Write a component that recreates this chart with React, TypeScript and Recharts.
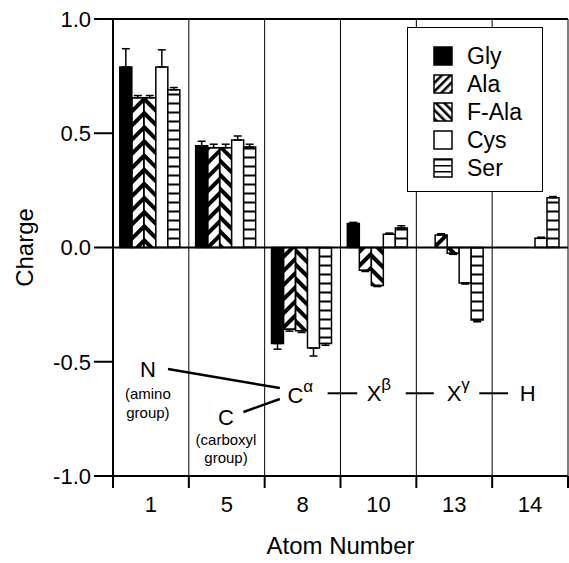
import React from 'react';
import {
  BarChart,
  Bar,
  XAxis,
  YAxis,
  CartesianGrid,
  ReferenceLine,
  ReferenceDot,
  ErrorBar,
  Legend,
} from 'recharts';

// atom numbers along the x axis
const atoms = ['1', '5', '8', '10', '13', '14'];
const seriesNames = ['Gly', 'Ala', 'F-Ala', 'Cys', 'Ser'];

// charges per residue type
const gly = [0.79, 0.445, -0.42, 0.105, 0, 0];
const ala = [0.655, 0.437, -0.358, -0.1, 0.055, 0];
const fAla = [0.655, 0.437, -0.364, -0.166, -0.025, 0];
const cys = [0.79, 0.47, -0.44, 0.058, -0.155, 0.04];
const ser = [0.69, 0.44, -0.42, 0.085, -0.317, 0.218];

// one-sided error (drawn away from zero)
const glyErr = [0.08, 0.02, 0.025, 0.005, 0, 0];
const alaErr = [0.01, 0.015, 0.008, 0.005, 0.005, 0];
const fAlaErr = [0.01, 0.015, 0.008, 0.005, 0.005, 0];
const cysErr = [0.075, 0.018, 0.035, 0.005, 0.005, 0.005];
const serErr = [0.01, 0.012, 0.008, 0.01, 0.008, 0.005];

const yTicks = [-1, -0.5, 0, 0.5, 1];

const values = [gly, ala, fAla, cys, ser];
const errors = [glyErr, alaErr, fAlaErr, cysErr, serErr];
const fills = ['#000', 'url(#hatchUp)', 'url(#hatchDown)', '#fff', 'url(#hLines)'];
const legendFills = ['#000', 'url(#hatchUpSm)', 'url(#hatchDownSm)', '#fff', 'url(#hLinesSm)'];

const data = atoms.map((atom, i) => {
  const row: Record<string, any> = { atom };
  seriesNames.forEach((name, s) => {
    const v = values[s][i];
    const e = errors[s][i];
    row[name] = v;
    row[name + 'Err'] = v >= 0 ? [0, e] : [e, 0];
  });
  return row;
});

// backbone annotation (x in category-slot units 0..6, y in charge units)
const labels = [
  { x: 0.46, y: -0.536, text: 'N', size: 22, anchor: 'middle' },
  { x: 0.46, y: -0.637, text: '(amino', size: 15, anchor: 'middle' },
  { x: 0.46, y: -0.72, text: 'group)', size: 15, anchor: 'middle' },
  { x: 1.49, y: -0.746, text: 'C', size: 22, anchor: 'middle' },
  { x: 1.49, y: -0.842, text: '(carboxyl', size: 15, anchor: 'middle' },
  { x: 1.49, y: -0.921, text: 'group)', size: 15, anchor: 'middle' },
  { x: 2.3, y: -0.646, text: 'C', sup: 'α', size: 22, anchor: 'start' },
  { x: 3.345, y: -0.637, text: 'X', sup: 'β', size: 22, anchor: 'start' },
  { x: 4.4, y: -0.637, text: 'X', sup: 'γ', size: 22, anchor: 'start' },
  { x: 5.47, y: -0.637, text: 'H', size: 22, anchor: 'middle' },
];

const bonds = [
  [{ x: 0.725, y: -0.532 }, { x: 2.2, y: -0.615 }],
  [{ x: 1.72, y: -0.72 }, { x: 2.2, y: -0.663 }],
  [{ x: 2.83, y: -0.638 }, { x: 3.22, y: -0.638 }],
  [{ x: 3.86, y: -0.638 }, { x: 4.23, y: -0.638 }],
  [{ x: 4.83, y: -0.638 }, { x: 5.21, y: -0.638 }],
];

const renderLegend = () => (
  <div
    style={{
      width: 136,
      height: 165,
      border: '1.5px solid #000',
      background: '#fff',
      boxSizing: 'border-box',
      paddingTop: 14,
      paddingLeft: 25,
    }}
  >
    {seriesNames.map((name, s) => (
      <div key={name} style={{ display: 'flex', alignItems: 'center', height: 28 }}>
        <svg width={20} height={20} style={{ marginRight: 14 }}>
          <rect x={1} y={1} width={18} height={18} fill={legendFills[s]} stroke="#000" strokeWidth={1.5} />
        </svg>
        <span style={{ fontSize: 23, color: '#000' }}>{name}</span>
      </div>
    ))}
  </div>
);

export default function App() {
  return (
    <div
      style={{
        position: 'absolute',
        left: 0,
        top: 0,
        background: '#fff',
        fontFamily: '"Liberation Sans", Arial, sans-serif',
      }}
    >
      <BarChart
        width={569}
        height={563}
        data={data}
        margin={{ top: 19, right: 1, left: 0, bottom: 0 }}
        barCategoryGap="9%"
        barGap={0}
      >
        <defs>
          <pattern id="hatchUp" patternUnits="userSpaceOnUse" width={10} height={10} patternTransform="rotate(45)">
            <rect x={0} y={0} width={4} height={10} fill="#000" />
          </pattern>
          <pattern id="hatchDown" patternUnits="userSpaceOnUse" width={10} height={10} patternTransform="rotate(-45)">
            <rect x={0} y={0} width={4} height={10} fill="#000" />
          </pattern>
          <pattern id="hLines" patternUnits="userSpaceOnUse" width={10} height={9}>
            <rect x={0} y={0} width={10} height={9} fill="#fff" />
            <rect x={0} y={3.5} width={10} height={2} fill="#000" />
          </pattern>
          <pattern id="hatchUpSm" patternUnits="userSpaceOnUse" width={6} height={6} patternTransform="rotate(45)">
            <rect x={0} y={0} width={2.5} height={6} fill="#000" />
          </pattern>
          <pattern id="hatchDownSm" patternUnits="userSpaceOnUse" width={6} height={6} patternTransform="rotate(-45)">
            <rect x={0} y={0} width={2.5} height={6} fill="#000" />
          </pattern>
          <pattern id="hLinesSm" patternUnits="userSpaceOnUse" width={6} height={6} y={1}>
            <rect x={0} y={0} width={6} height={6} fill="#fff" />
            <rect x={0} y={0} width={6} height={1.5} fill="#000" />
          </pattern>
        </defs>

        {/* slot axis: group boundaries, tick marks and frame (sits next to the plot) */}
        <CartesianGrid horizontal={false} stroke="#000" strokeWidth={1} />
        <XAxis
          type="number"
          dataKey={() => 0}
          domain={[0, 6]}
          ticks={[0, 1, 2, 3, 4, 5, 6]}
          allowDataOverflow
          height={13}
          tickSize={12}
          tickFormatter={() => ''}
          axisLine={{ stroke: '#000', strokeWidth: 2 }}
          tickLine={{ stroke: '#000', strokeWidth: 2 }}
        />
        {/* category axis: atom number labels */}
        <XAxis
          xAxisId="cat"
          dataKey="atom"
          height={74}
          interval={0}
          tickLine={false}
          axisLine={false}
          tickSize={0}
          tickMargin={7}
          tick={{ fontSize: 22, fill: '#000' }}
          label={{ value: 'Atom Number', position: 'insideBottom', offset: 9, fontSize: 24, fill: '#000' }}
        />
        <YAxis
          type="number"
          domain={[-1, 1]}
          ticks={yTicks}
          width={113}
          tickSize={19}
          tickMargin={3}
          tickFormatter={(v: number) => v.toFixed(1)}
          tick={{ fontSize: 22, fill: '#000' }}
          axisLine={{ stroke: '#000', strokeWidth: 2 }}
          tickLine={{ stroke: '#000', strokeWidth: 2 }}
          label={{
            value: 'Charge',
            angle: -90,
            position: 'insideLeft',
            offset: 24,
            fontSize: 24,
            fill: '#000',
            style: { textAnchor: 'middle' },
          }}
        />

        {seriesNames.map((name, s) => (
          <Bar
            key={name}
            xAxisId="cat"
            dataKey={name}
            fill={fills[s]}
            stroke="#000"
            strokeWidth={1.5}
            isAnimationActive={false}
          >
            <ErrorBar dataKey={name + 'Err'} width={4} stroke="#000" strokeWidth={1.5} direction="y" />
          </Bar>
        ))}

        <ReferenceLine y={0} stroke="#000" strokeWidth={2} />
        <ReferenceLine y={1} stroke="#000" strokeWidth={2} />

        {bonds.map((seg, i) => (
          <ReferenceLine key={'b' + i} segment={seg} stroke="#000" strokeWidth={i < 2 ? 2.5 : 2} />
        ))}

        {labels.map((l, i) => (
          <ReferenceDot
            key={'l' + i}
            x={l.x}
            y={l.y}
            r={0}
            shape={(p: any) => (
              <text
                x={p.cx}
                y={p.cy}
                textAnchor={l.anchor}
                dominantBaseline="central"
                fontSize={l.size}
                fill="#000"
              >
                {l.text}
                {l.sup ? (
                  <tspan fontSize={17} dy={-9}>
                    {l.sup}
                  </tspan>
                ) : null}
              </text>
            )}
          />
        ))}

        <Legend
          verticalAlign="middle"
          align="center"
          content={renderLegend}
          wrapperStyle={{ position: 'absolute', left: 407, top: 27, width: 136 }}
        />
      </BarChart>
    </div>
  );
}
